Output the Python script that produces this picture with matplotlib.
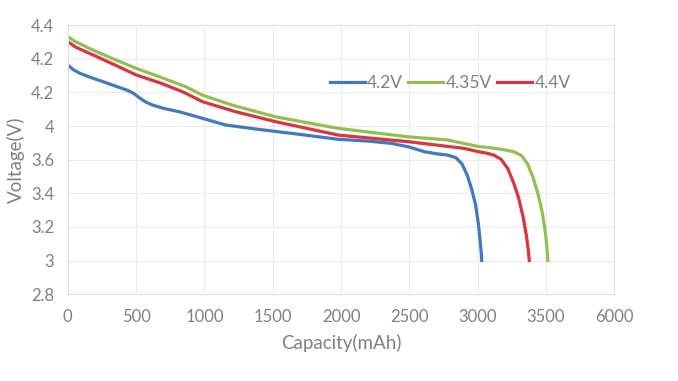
import numpy as np
import matplotlib.pyplot as plt

# discharge curves (capacity mAh, voltage on the chart's own scale)
cap_42 = [0, 40, 87, 170, 257, 350, 438, 480, 524, 570, 620, 700, 815, 985, 1155, 1397, 1700, 1979, 2200, 2368,
          2500, 2611, 2700, 2780, 2840, 2885, 2925, 2958, 2985, 3005, 3018, 3026, 3030]
volt_42 = [4.163, 4.135, 4.114, 4.088, 4.064, 4.037, 4.012, 3.995, 3.968, 3.943, 3.925, 3.905, 3.885, 3.846,
           3.806, 3.780, 3.750, 3.721, 3.710, 3.697, 3.675, 3.647, 3.635, 3.627, 3.612, 3.575, 3.505, 3.420,
           3.330, 3.220, 3.120, 3.050, 3.0]
cap_435 = [0, 60, 184, 340, 500, 680, 863, 985, 1201, 1519, 1979, 2489, 2780, 2998, 3120, 3220, 3270, 3320,
           3365, 3405, 3442, 3473, 3496, 3508, 3513]
volt_435 = [4.332, 4.300, 4.252, 4.197, 4.143, 4.090, 4.034, 3.984, 3.925, 3.855, 3.786, 3.736, 3.717, 3.679,
            3.668, 3.655, 3.645, 3.625, 3.575, 3.495, 3.395, 3.285, 3.165, 3.070, 3.0]
cap_44 = [0, 60, 184, 340, 500, 680, 840, 985, 1228, 1519, 1979, 2489, 2901, 3000, 3070, 3120, 3170, 3220,
          3262, 3300, 3332, 3356, 3371, 3378]
volt_44 = [4.302, 4.268, 4.223, 4.165, 4.104, 4.055, 4.004, 3.945, 3.885, 3.826, 3.746, 3.707, 3.667, 3.648,
           3.638, 3.626, 3.603, 3.548, 3.465, 3.372, 3.262, 3.152, 3.060, 3.0]

xticks = [0, 500, 1000, 1500, 2000, 2500, 3000, 3500, 4000]
xlabels = ['0', '500', '1000', '1500', '2000', '2500', '3000', '3500', '6000']
yticks = [2.8, 3.0, 3.2, 3.4, 3.6, 3.8, 4.0, 4.2, 4.4]
ylabels = ['2.8', '3', '3.2', '3.4', '3.6', '4', '4.2', '4.2', '4.4']

plt.rcParams['font.family'] = ['Lato', 'DejaVu Sans']
grey = '#808080'

fig = plt.figure(figsize=(6.78, 3.81), dpi=100)
ax = fig.add_axes([0.100, 0.228, 0.806, 0.706])

ax.plot(cap_42, volt_42, color='#4278c2', lw=2.3, label='4.2V', solid_joinstyle='round')
ax.plot(cap_435, volt_435, color='#92c050', lw=2.3, label='4.35V', solid_joinstyle='round')
ax.plot(cap_44, volt_44, color='#d9343f', lw=2.3, label='4.4V', solid_joinstyle='round')

ax.set_xlim(0, 4000)
ax.set_ylim(2.8, 4.4)
ax.set_xticks(xticks)
ax.set_xticklabels(xlabels)
ax.set_yticks(yticks)
ax.set_yticklabels(ylabels)
ax.tick_params(length=0, labelsize=12, colors=grey)
ax.tick_params(axis='x', pad=11)
ax.tick_params(axis='y', pad=10)
ax.grid(True, color='#ebebeb', lw=0.8)
ax.set_axisbelow(True)
for s in ax.spines.values():
    s.set_color('#e0e0e0')
    s.set_linewidth(0.8)

ax.set_xlabel('Capacity(mAh)', fontsize=13.5, color=grey, labelpad=6)
ax.set_ylabel('Voltage(V)', fontsize=13.5, color=grey, labelpad=4)

leg = ax.legend(loc='center', bbox_to_anchor=(0.70, 0.785), ncol=3, frameon=False,
                fontsize=12.5, handlelength=2.0, handletextpad=0.15, columnspacing=0.3)
for t in leg.get_texts():
    t.set_color(grey)

fig.savefig('out.png', dpi=100, facecolor='white')
